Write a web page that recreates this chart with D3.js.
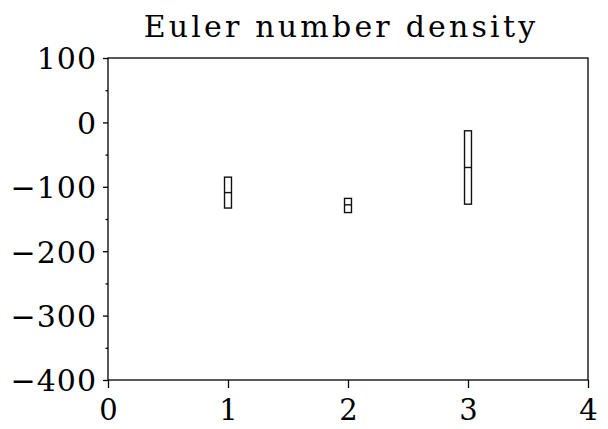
<!DOCTYPE html>
<html><head><meta charset="utf-8">
<script src="https://cdn.jsdelivr.net/npm/d3@7"></script>
<style>body{margin:0;background:#fff}svg{display:block}</style>
</head><body>
<script>
const title = "Euler number density";
const categories = [1, 2, 3];
const q1 = [-133, -140, -127];
const medians = [-109, -128, -70];
const q3 = [-85, -118, -13];
const xTicks = [0, 1, 2, 3, 4];
const yTicks = [100, 0, -100, -200, -300, -400];
const yMinorTicks = [50, -50, -150, -250, -350];

const W = 608, H = 429;
const m = {left: 108, right: 20, top: 58, bottom: 49};
const svg = d3.select("body").append("svg").attr("width", W).attr("height", H);
const x = d3.scaleLinear().domain([0, 4]).range([m.left, W - m.right]);
const y = d3.scaleLinear().domain([-400, 100]).range([H - m.bottom, m.top]);
const font = "DejaVu Serif";
const fmt = d => (d < 0 ? "\u2212" + Math.abs(d) : String(d));

// frame
svg.append("rect").attr("x", x(0)).attr("y", y(100)).attr("width", x(4) - x(0)).attr("height", y(-400) - y(100))
  .attr("fill", "none").attr("stroke", "#000").attr("stroke-width", 1.3);

// y axis
const ya = svg.append("g").attr("transform", `translate(${x(0)},0)`)
  .call(d3.axisLeft(y).tickValues(yTicks).tickSize(5).tickPadding(6).tickFormat(fmt));
ya.select(".domain").remove();
ya.selectAll("line").attr("stroke", "#000").attr("stroke-width", 1.3);
ya.selectAll("text").attr("font-family", font).attr("font-size", 30).attr("fill", "#000")
  .attr("dy", "0.36em").attr("letter-spacing", 1);
const yb = svg.append("g").attr("transform", `translate(${x(0)},0)`)
  .call(d3.axisLeft(y).tickValues(yMinorTicks).tickSize(2.5).tickFormat(""));
yb.select(".domain").remove();
yb.selectAll("line").attr("stroke", "#000").attr("stroke-width", 1.3);

// x axis
const xa = svg.append("g").attr("transform", `translate(0,${y(-400)})`)
  .call(d3.axisBottom(x).tickValues(xTicks).tickSize(8).tickPadding(10).tickFormat(d3.format("d")));
xa.select(".domain").remove();
xa.selectAll("line").attr("stroke", "#000").attr("stroke-width", 1.3);
xa.selectAll("text").attr("font-family", font).attr("font-size", 29).attr("fill", "#000").attr("dy", "0.76em");

// boxes
const bw = 0.058;
const g = svg.append("g");
categories.forEach((c, i) => {
  g.append("rect").attr("x", x(c - bw / 2)).attr("y", y(q3[i]))
    .attr("width", x(c + bw / 2) - x(c - bw / 2)).attr("height", y(q1[i]) - y(q3[i]))
    .attr("fill", "none").attr("stroke", "#111").attr("stroke-width", 1.4);
  g.append("line").attr("x1", x(c - bw / 2)).attr("x2", x(c + bw / 2))
    .attr("y1", y(medians[i])).attr("y2", y(medians[i]))
    .attr("stroke", "#111").attr("stroke-width", 1.4);
});

// title
svg.append("text").attr("x", 341).attr("y", 37)
  .attr("text-anchor", "middle").attr("font-family", font).attr("font-size", 30).attr("fill", "#000")
  .attr("letter-spacing", 3.2)
  .text(title);
</script>
</body></html>
